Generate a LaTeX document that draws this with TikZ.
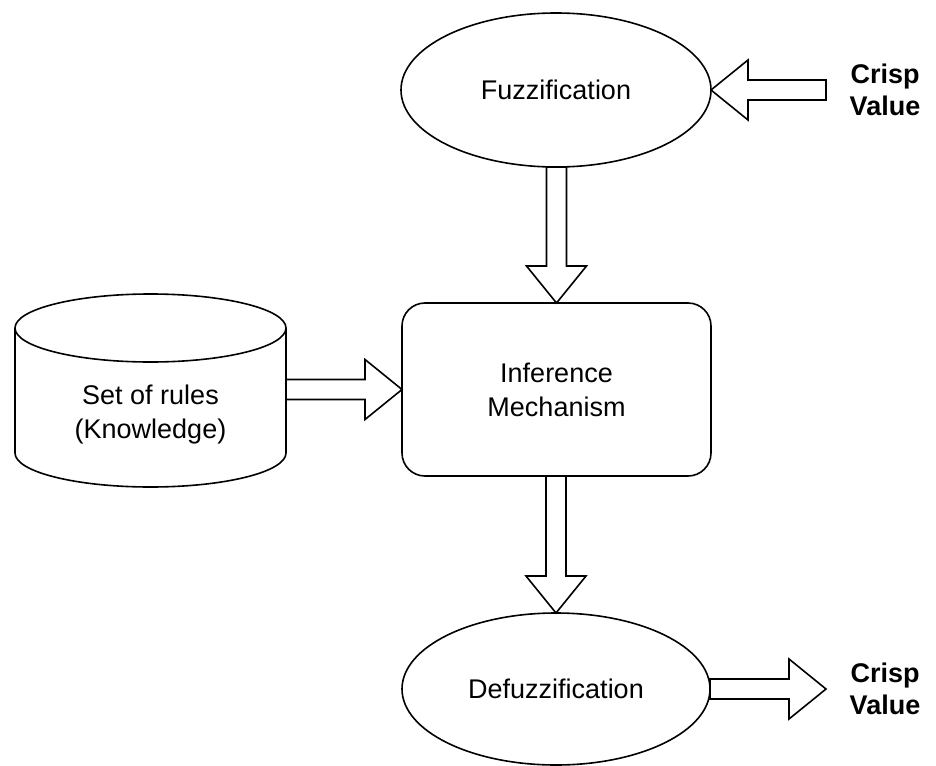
\documentclass[tikz,border=0pt]{standalone}
\usepackage{fontspec}
\setmainfont{Liberation Sans}
\usetikzlibrary{shapes.geometric,calc}

% Hollow block arrows between two anchors (shaft half-width 10, head half-width 30, head length 37)
\newcommand{\downblock}[2]{%
  \draw[blockarrow] let \p1=(#1), \p2=(#2) in
    (\x2-10pt,\y1) -- (\x2+10pt,\y1) -- (\x2+10pt,\y2+37pt) -- (\x2+30pt,\y2+37pt)
    -- (\x2,\y2) -- (\x2-30pt,\y2+37pt) -- (\x2-10pt,\y2+37pt) -- cycle;}
\newcommand{\rightblock}[2]{%
  \draw[blockarrow] let \p1=(#1), \p2=(#2) in
    (\x1,\y2+10pt) -- (\x2-37pt,\y2+10pt) -- (\x2-37pt,\y2+30pt) -- (\x2,\y2)
    -- (\x2-37pt,\y2-30pt) -- (\x2-37pt,\y2-10pt) -- (\x1,\y2-10pt) -- cycle;}
\newcommand{\leftblock}[2]{%
  \draw[blockarrow] let \p1=(#1), \p2=(#2) in
    (\x1,\y2+10pt) -- (\x2+37pt,\y2+10pt) -- (\x2+37pt,\y2+30pt) -- (\x2,\y2)
    -- (\x2+37pt,\y2-30pt) -- (\x2+37pt,\y2-10pt) -- (\x1,\y2-10pt) -- cycle;}

\begin{document}
\begin{tikzpicture}[x=1pt,y=-1pt,
  every node/.style={inner sep=0pt, outer sep=0pt, align=center,
                     font=\fontsize{27}{34}\selectfont},
  outline/.style={draw=black, line width=1.6pt},
  stage/.style={outline, ellipse},
  engine/.style={outline, rectangle, rounded corners=23pt},
  blockarrow/.style={draw=black, fill=white, line width=1.6pt, line join=miter},
  crisp/.style={font=\bfseries\fontsize{27}{32}\selectfont}]
\useasboundingbox (0,0) rectangle (936,765);

% main processing chain
\node (fuzz)   [stage, minimum width=310, minimum height=154] at (556,90)  {Fuzzification};
\node (inf)    [engine, minimum width=309, minimum height=173] at (556.5,389.5) {Inference\\Mechanism};
\node (defuzz) [stage, minimum width=308, minimum height=152] at (556,689) {Defuzzification};

% knowledge base drawn as a cylinder
\draw[outline] (150.5,328) ellipse [x radius=135.5, y radius=34];
\draw[outline] (15,328) -- (15,453) arc[start angle=180, end angle=0, x radius=135.5, y radius=34] -- (286,328);
\node (rules) [minimum width=271, minimum height=120] at (150.5,415) {Set of rules\\(Knowledge)};

% crisp input / output labels
\node (inval)  [crisp] at (885,90)  {Crisp\\Value};
\node (outval) [crisp] at (885,689) {Crisp\\Value};
\coordinate (intail)  at (826,89);
\coordinate (outhead) at (826,689);

% connectors
\leftblock{intail}{fuzz.east}
\downblock{fuzz.south}{inf.north}
\rightblock{rules.east |- inf.west}{inf.west}
\downblock{inf.south}{defuzz.north}
\rightblock{defuzz.east}{outhead}
\end{tikzpicture}
\end{document}
